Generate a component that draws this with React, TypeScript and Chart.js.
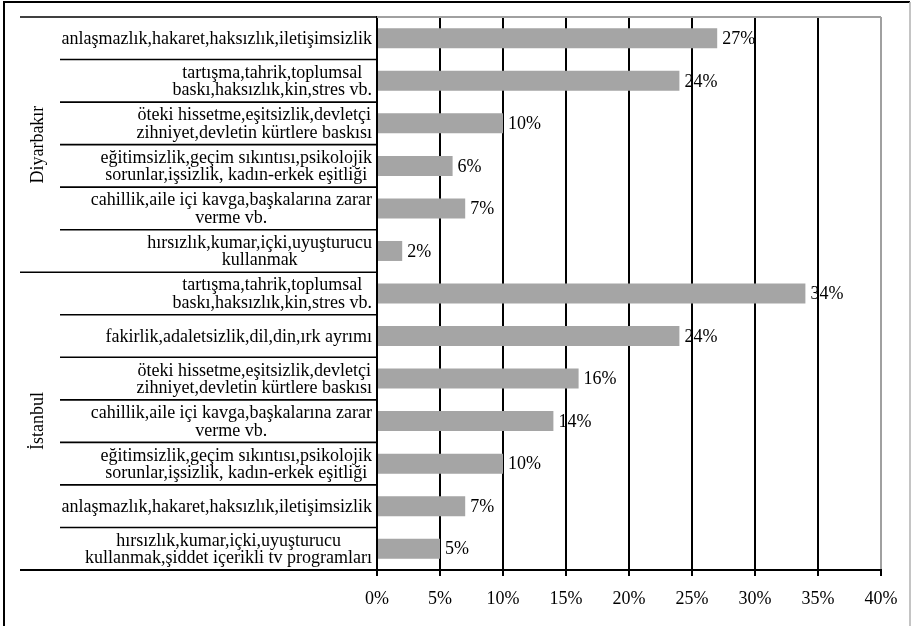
import React, { useEffect, useRef } from 'react';
import { Chart, registerables } from 'chart.js';

Chart.register(...registerables);

const groupNames = ['Diyarbakır', 'İstanbul'];

const diyarbakirLabels: string[][] = [
  ['anlaşmazlık,hakaret,haksızlık,iletişimsizlik'],
  ['tartışma,tahrik,toplumsal', 'baskı,haksızlık,kin,stres vb.'],
  ['öteki hissetme,eşitsizlik,devletçi', 'zihniyet,devletin kürtlere baskısı'],
  ['eğitimsizlik,geçim sıkıntısı,psikolojik', 'sorunlar,işsizlik, kadın-erkek eşitliği'],
  ['cahillik,aile içi kavga,başkalarına zarar', 'verme vb.'],
  ['hırsızlık,kumar,içki,uyuşturucu', 'kullanmak'],
];
const diyarbakirValues = [27, 24, 10, 6, 7, 2];

const istanbulLabels: string[][] = [
  ['tartışma,tahrik,toplumsal', 'baskı,haksızlık,kin,stres vb.'],
  ['fakirlik,adaletsizlik,dil,din,ırk ayrımı'],
  ['öteki hissetme,eşitsizlik,devletçi', 'zihniyet,devletin kürtlere baskısı'],
  ['cahillik,aile içi kavga,başkalarına zarar', 'verme vb.'],
  ['eğitimsizlik,geçim sıkıntısı,psikolojik', 'sorunlar,işsizlik, kadın-erkek eşitliği'],
  ['anlaşmazlık,hakaret,haksızlık,iletişimsizlik'],
  ['hırsızlık,kumar,içki,uyuşturucu', 'kullanmak,şiddet içerikli tv programları'],
];
const istanbulValues = [34, 24, 16, 14, 10, 7, 5];

const xMin = 0;
const xMax = 40;
const xStep = 5;

const FAMILY = '"Liberation Serif", "Times New Roman", serif';
const FONT = '18px ' + FAMILY;

export default function App() {
  const ref = useRef<HTMLCanvasElement>(null);

  useEffect(() => {
    document.body.style.margin = '0';
    const canvas = ref.current;
    if (!canvas) return;

    const allLabels = [...diyarbakirLabels, ...istanbulLabels];
    const allValues = [...diyarbakirValues, ...istanbulValues];
    const groupSizes = [diyarbakirLabels.length, istanbulLabels.length];

    const overlay = {
      id: 'overlay',
      afterDraw(chart: any) {
        const ctx = chart.ctx as CanvasRenderingContext2D;
        const area = chart.chartArea;
        const ys = chart.scales.y;
        const n = allLabels.length;
        const step = n > 1 ? ys.getPixelForValue(1) - ys.getPixelForValue(0) : 0;
        ctx.save();

        // outer frame
        ctx.lineWidth = 2;
        ctx.strokeStyle = '#000';
        ctx.beginPath();
        ctx.moveTo(4, 630);
        ctx.lineTo(4, 2);
        ctx.lineTo(910, 2);
        ctx.stroke();
        ctx.strokeStyle = '#b0b0b0';
        ctx.lineWidth = 1.5;
        ctx.beginPath();
        ctx.moveTo(910, 2);
        ctx.lineTo(910, 630);
        ctx.stroke();

        // plot top border
        ctx.strokeStyle = '#a0a0a0';
        ctx.lineWidth = 2;
        ctx.beginPath();
        ctx.moveTo(area.left, area.top);
        ctx.lineTo(area.right, area.top);
        ctx.stroke();

        // separators
        const groupBounds: number[] = [0];
        let acc = 0;
        groupSizes.forEach((g) => { acc += g; groupBounds.push(acc); });
        ctx.strokeStyle = '#000';
        ctx.lineWidth = 1.6;
        for (let i = 0; i <= n; i++) {
          const yy = ys.getPixelForValue(0) - step / 2 + i * step;
          const x0 = groupBounds.includes(i) ? 20 : 60;
          ctx.beginPath();
          ctx.moveTo(x0, yy);
          ctx.lineTo(area.left, yy);
          ctx.stroke();
        }

        // category labels
        ctx.font = FONT;
        ctx.fillStyle = '#000';
        ctx.textAlign = 'center';
        ctx.textBaseline = 'middle';
        const rightEdge = 372;
        allLabels.forEach((lines, i) => {
          const cy = ys.getPixelForValue(i) + 1;
          const maxW = Math.max(...lines.map((l) => ctx.measureText(l).width));
          const cx = rightEdge - maxW / 2;
          lines.forEach((l, k) => {
            ctx.fillText(l, cx, cy + (k - (lines.length - 1) / 2) * 17.5);
          });
        });

        // group labels
        let start = 0;
        groupSizes.forEach((g, gi) => {
          const yTop = ys.getPixelForValue(start) - step / 2;
          const yBot = ys.getPixelForValue(start + g - 1) + step / 2;
          ctx.save();
          ctx.translate(38, (yTop + yBot) / 2);
          ctx.rotate(-Math.PI / 2);
          ctx.fillText(groupNames[gi], 0, 0);
          ctx.restore();
          start += g;
        });

        // data labels
        ctx.textAlign = 'left';
        const meta = chart.getDatasetMeta(0);
        meta.data.forEach((bar: any, i: number) => {
          ctx.fillText(allValues[i] + '%', bar.x + 5, bar.y + 1);
        });

        // bottom axis line extension to the left
        ctx.strokeStyle = '#000';
        ctx.lineWidth = 2;
        ctx.beginPath();
        ctx.moveTo(20, area.bottom);
        ctx.lineTo(area.left, area.bottom);
        ctx.stroke();

        ctx.restore();
      },
    };

    const chart = new Chart(canvas, {
      type: 'bar',
      data: {
        labels: allLabels.map((l) => l.join(' ')),
        datasets: [
          {
            data: allValues,
            backgroundColor: '#a5a5a5',
            borderWidth: 0,
            barPercentage: 0.47,
            categoryPercentage: 1,
          },
        ],
      },
      options: {
        indexAxis: 'y',
        animation: false,
        responsive: false,
        maintainAspectRatio: false,
        layout: { padding: { top: 17, right: 31, left: 0, bottom: 0 } },
        plugins: {
          legend: { display: false },
          tooltip: { enabled: false },
          title: { display: false },
        },
        scales: {
          x: {
            type: 'linear',
            min: xMin,
            max: xMax,
            ticks: {
              stepSize: xStep,
              color: '#000',
              font: { family: FAMILY, size: 18 },
              padding: 12,
              callback: (v: any) => v + '%',
            },
            grid: {
              color: (c: any) => (c.tick && c.tick.value === xMax ? '#a0a0a0' : '#000'),
              lineWidth: 2,
              drawTicks: true,
              tickLength: 6,
              tickColor: '#000',
              tickWidth: 2,
            },
            border: { display: true, color: '#000', width: 2 },
            afterFit: (s: any) => { s.height = 56; },
          },
          y: {
            type: 'category',
            ticks: { display: false },
            grid: { display: false },
            border: { display: true, color: '#000', width: 2 },
            afterFit: (s: any) => { s.width = 377; },
          },
        },
      },
      plugins: [overlay],
    });

    return () => chart.destroy();
  }, []);

  return (
    <div style={{ width: 912, height: 626 }}>
      <canvas ref={ref} width={912} height={626} style={{ display: 'block' }} />
    </div>
  );
}
